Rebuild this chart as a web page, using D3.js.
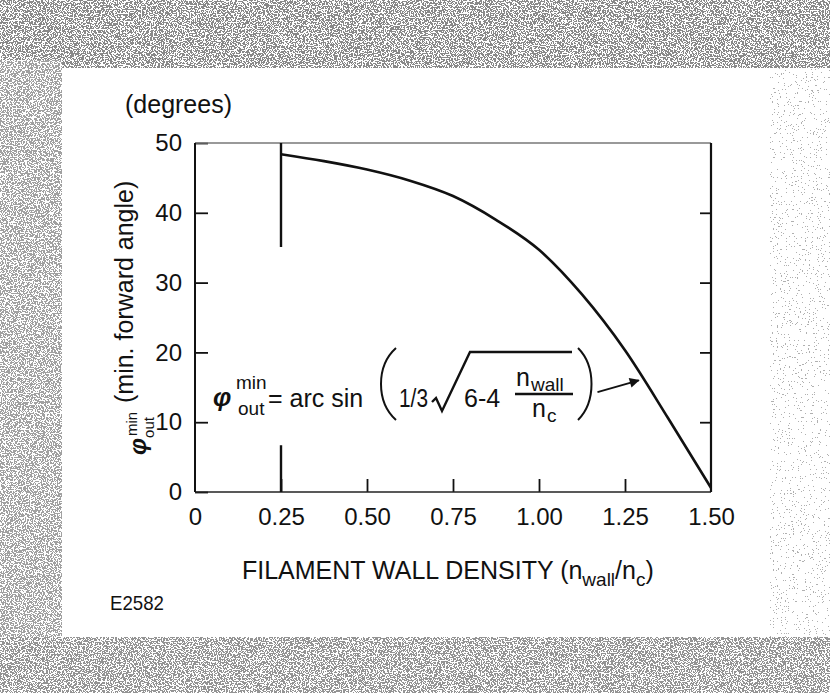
<!DOCTYPE html>
<html>
<head>
<meta charset="utf-8">
<script src="https://cdn.jsdelivr.net/npm/d3@7"></script>
<style>
  html, body { margin: 0; padding: 0; background: #fff; }
  svg { display: block; }
  text { font-family: "Liberation Sans", Arial, sans-serif; fill: #111; }
</style>
</head>
<body>
<div id="chart"></div>
<script>
// values
const curveX = [0.25, 0.375, 0.5, 0.625, 0.75, 0.875, 1.0, 1.125, 1.25, 1.375, 1.5];
const curveY = [48.4, 47.4, 46.2, 44.6, 42.4, 39.0, 34.7, 28.3, 20.3, 10.6, 0.6];

// vertical marker at n_wall/n_c = 0.25 (two pieces)
const cutoffX = 0.25;
const cutoffSegments = [[35.1, 50], [0, 6.7]];

// arrow pointing from the formula to the curve
const arrowFrom = [1.17, 14.3];
const arrowTo = [1.29, 16.0];

const xTicks = [0, 0.25, 0.5, 0.75, 1.0, 1.25, 1.5];
const xTickLabels = ["0", "0.25", "0.50", "0.75", "1.00", "1.25", "1.50"];
const yTicks = [0, 10, 20, 30, 40, 50];
const yTickLabels = ["0", "10", "20", "30", "40", "50"];

const W = 830, H = 693;
const plot = {left: 195, right: 711, top: 143, bottom: 492};

const svg = d3.select("#chart").append("svg")
    .attr("width", W)
    .attr("height", H);

const defs = svg.append("defs");

// scanned-paper grain for the border
function addGrain(id, seed, table) {
    const fl = defs.append("filter")
        .attr("id", id)
        .attr("filterUnits", "userSpaceOnUse")
        .attr("x", 0).attr("y", 0).attr("width", W).attr("height", H);
    fl.append("feTurbulence")
        .attr("type", "fractalNoise")
        .attr("baseFrequency", 0.75)
        .attr("numOctaves", 2)
        .attr("seed", seed);
    fl.append("feColorMatrix")
        .attr("type", "matrix")
        .attr("values", "0 0 0 0 0.25  0 0 0 0 0.25  0 0 0 0 0.25  1 0 0 0 0");
    fl.append("feComponentTransfer")
      .append("feFuncA")
        .attr("type", "discrete")
        .attr("tableValues", table);
}
addGrain("grain", 7, "0 0 0 0 0 1 1 1 1 1");
addGrain("grainLight", 11, "0 0 0 0 0 0 0 1 1 1");

const mask = defs.append("mask").attr("id", "frameMask");
mask.append("rect").attr("width", W).attr("height", 68).attr("fill", "#fff");
mask.append("rect").attr("y", 60).attr("width", 62).attr("height", H).attr("fill", "#ccc");
mask.append("rect").attr("y", 637).attr("width", W).attr("height", 60).attr("fill", "#e8e8e8");

const maskR = defs.append("mask").attr("id", "rightMask");
maskR.append("rect").attr("x", 770).attr("y", 60).attr("width", 62).attr("height", 580).attr("fill", "#aaa");

svg.append("rect").attr("width", W).attr("height", H).attr("fill", "#fff");
svg.append("g")
    .attr("mask", "url(#frameMask)")
  .append("rect")
    .attr("width", W).attr("height", H)
    .attr("filter", "url(#grain)");
svg.append("g")
    .attr("mask", "url(#rightMask)")
  .append("rect")
    .attr("width", W).attr("height", H)
    .attr("filter", "url(#grainLight)");

// scales
const x = d3.scaleLinear().domain([0, 1.5]).range([plot.left, plot.right]);
const y = d3.scaleLinear().domain([0, 50]).range([plot.bottom, plot.top]);

// axes, ticks pointing inward
svg.append("g")
    .attr("transform", "translate(0," + plot.bottom + ")")
    .call(d3.axisBottom(x).tickValues(xTicks.slice(1, -1)).tickSize(-13).tickPadding(16)
        .tickFormat((d) => xTickLabels[xTicks.indexOf(d)]))
    .call(g => g.select(".domain").remove());

svg.append("g")
    .attr("transform", "translate(0," + plot.bottom + ")")
    .call(d3.axisBottom(x).tickValues([xTicks[0], xTicks[xTicks.length - 1]]).tickSize(0).tickPadding(16)
        .tickFormat((d) => xTickLabels[xTicks.indexOf(d)]))
    .call(g => g.select(".domain").remove());

svg.append("g")
    .attr("transform", "translate(" + plot.left + ",0)")
    .call(d3.axisLeft(y).tickValues(yTicks).tickSize(-13).tickPadding(13)
        .tickFormat((d, i) => yTickLabels[i]))
    .call(g => g.select(".domain").remove());

svg.append("g")
    .attr("transform", "translate(" + plot.right + ",0)")
    .call(d3.axisRight(y).tickValues(yTicks.slice(1, -1)).tickSize(-11).tickFormat(""))
    .call(g => g.select(".domain").remove());

svg.selectAll(".tick line").attr("stroke", "#111").attr("stroke-width", 1.8);
svg.selectAll(".tick text")
    .style("font-family", "'Liberation Sans', Arial, sans-serif")
    .style("font-size", "24px")
    .attr("fill", "#111");

// frame
svg.append("line")
    .attr("x1", x(0)).attr("x2", x(1.5)).attr("y1", y(50)).attr("y2", y(50))
    .attr("stroke", "#777").attr("stroke-width", 1.4);
svg.append("line")
    .attr("x1", x(0)).attr("x2", x(1.5)).attr("y1", y(0)).attr("y2", y(0))
    .attr("stroke", "#222").attr("stroke-width", 1.6);
svg.append("line")
    .attr("x1", x(0)).attr("x2", x(0)).attr("y1", y(0)).attr("y2", y(50))
    .attr("stroke", "#111").attr("stroke-width", 2);
svg.append("line")
    .attr("x1", x(1.5)).attr("x2", x(1.5)).attr("y1", y(0)).attr("y2", y(50))
    .attr("stroke", "#111").attr("stroke-width", 2.2);

// marker at 0.25
svg.append("g").selectAll("line")
    .data(cutoffSegments)
    .join("line")
    .attr("x1", x(cutoffX)).attr("x2", x(cutoffX))
    .attr("y1", d => y(d[0])).attr("y2", d => y(d[1]))
    .attr("stroke", "#111").attr("stroke-width", 2.4);

// the curve
const line = d3.line()
    .x((d, i) => x(curveX[i]))
    .y(d => y(d))
    .curve(d3.curveMonotoneX);

svg.append("path")
    .datum(curveY)
    .attr("d", line)
    .attr("fill", "none")
    .attr("stroke", "#111")
    .attr("stroke-width", 2.6);

// arrow
defs.append("marker")
    .attr("id", "arrowHead")
    .attr("viewBox", "0 0 10 10")
    .attr("refX", 9).attr("refY", 5)
    .attr("markerWidth", 14).attr("markerHeight", 10)
    .attr("markerUnits", "userSpaceOnUse")
    .attr("orient", "auto")
  .append("path")
    .attr("d", "M0,0 L10,5 L0,10 z")
    .attr("fill", "#111");

svg.append("line")
    .attr("x1", x(arrowFrom[0])).attr("y1", y(arrowFrom[1]))
    .attr("x2", x(arrowTo[0])).attr("y2", y(arrowTo[1]))
    .attr("stroke", "#111").attr("stroke-width", 1.8)
    .attr("marker-end", "url(#arrowHead)");

// formula
const f = svg.append("g");
f.append("text").attr("x", 213).attr("y", 406)
    .style("font-size", "26px").style("font-style", "italic").style("font-weight", "bold").text("φ");
f.append("text").attr("x", 236).attr("y", 389).style("font-size", "19px").text("min");
f.append("text").attr("x", 238).attr("y", 415).style("font-size", "19px").text("out");
f.append("text").attr("x", 268).attr("y", 407).style("font-size", "25px").text("= arc sin");
f.append("path").attr("d", "M396,348 C376,366 376,402 396,420")
    .attr("fill", "none").attr("stroke", "#111").attr("stroke-width", 2);
f.append("text").attr("x", 399).attr("y", 407).style("font-size", "25px")
    .attr("textLength", 29).attr("lengthAdjust", "spacingAndGlyphs").text("1/3");
f.append("path").attr("d", "M432,402 L436,398 L442,411 L470,352 L572,352")
    .attr("fill", "none").attr("stroke", "#111").attr("stroke-width", 2.4).attr("stroke-linejoin", "miter");
f.append("text").attr("x", 464).attr("y", 407).style("font-size", "25px").text("6-4");
f.append("text").attr("x", 516).attr("y", 386).style("font-size", "25px").text("n");
f.append("text").attr("x", 531).attr("y", 391).style("font-size", "19px").text("wall");
f.append("line").attr("x1", 515).attr("x2", 573).attr("y1", 394).attr("y2", 394)
    .attr("stroke", "#111").attr("stroke-width", 2.4);
f.append("text").attr("x", 532).attr("y", 417).style("font-size", "25px").text("n");
f.append("text").attr("x", 547).attr("y", 422).style("font-size", "19px").text("c");
f.append("path").attr("d", "M578,348 C596,366 596,402 578,420")
    .attr("fill", "none").attr("stroke", "#111").attr("stroke-width", 2);

// axis titles
svg.append("text").attr("x", 125).attr("y", 113).style("font-size", "25px").text("(degrees)");

svg.append("text")
    .attr("transform", "translate(133,403) rotate(-90)")
    .style("font-size", "25px")
    .text("(min. forward angle)");

const yl = svg.append("text")
    .attr("transform", "translate(146,455) rotate(-90)")
    .style("font-size", "24px");
yl.append("tspan").style("font-style", "italic").style("font-weight", "bold").text("φ");
yl.append("tspan").attr("dx", 2).attr("dy", -9).style("font-size", "15px").text("min");
yl.append("tspan").attr("dx", -26).attr("dy", 17).style("font-size", "15px").text("out");

const xt = svg.append("text").attr("x", 242).attr("y", 579).style("font-size", "25px");
xt.append("tspan").text("FILAMENT WALL DENSITY (n");
xt.append("tspan").attr("dy", 7).style("font-size", "19px").text("wall");
xt.append("tspan").attr("dy", -7).text("/n");
xt.append("tspan").attr("dy", 7).style("font-size", "19px").text("c");
xt.append("tspan").attr("dy", -7).text(")");

svg.append("text").attr("x", 110).attr("y", 610).style("font-size", "21px")
    .attr("textLength", 54).attr("lengthAdjust", "spacingAndGlyphs").text("E2582");
</script>
</body>
</html>
